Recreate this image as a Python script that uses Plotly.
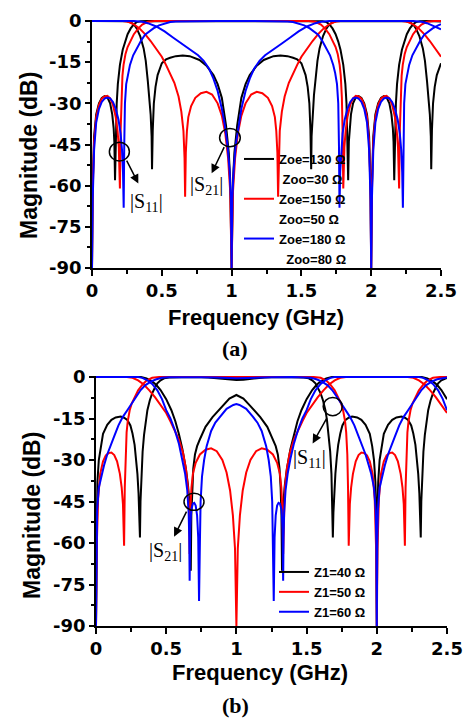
import plotly.graph_objects as go

# ---------------- data: (frequency GHz, magnitude dB) ----------------
# Panel (a): Zoe/Zoo variation
a_s11_black = [(0,-90),(0.005,-60),(0.015,-42),(0.03,-34),(0.05,-30),(0.07,-28),(0.09,-27.4),(0.11,-27.8),(0.13,-30),(0.145,-34),(0.155,-39),(0.16,-44),(0.165,-58),(0.17,-42),(0.177,-30),(0.185,-23),(0.2,-16),(0.22,-10.5),(0.236,-7.5),(0.255,-4.8),(0.277,-2.7),(0.3,-1.2),(0.32,-0.4),(0.35,-0.1),(0.4,0),(0.45,0),(0.55,-0.2),(0.65,-0.25),(0.8,-0.15),(0.95,-0.02),(1.0,0),(1.05,-0.02),(1.2,-0.15),(1.35,-0.25),(1.45,-0.2),(1.55,0),(1.6,-0.02),(1.65,-0.1),(1.68,-0.4),(1.7,-1.2),(1.723,-2.7),(1.745,-4.8),(1.764,-7.5),(1.78,-10.5),(1.8,-16),(1.815,-23),(1.823,-30),(1.83,-42),(1.835,-58),(1.84,-44),(1.845,-39),(1.855,-34),(1.87,-30),(1.89,-27.8),(1.91,-27.4),(1.93,-28),(1.95,-30),(1.97,-34),(1.985,-42),(1.995,-60),(2.0,-90),(2.005,-60),(2.015,-42),(2.03,-34),(2.05,-30),(2.07,-28),(2.09,-27.4),(2.11,-27.8),(2.13,-30),(2.145,-34),(2.155,-39),(2.16,-44),(2.165,-58),(2.17,-42),(2.177,-30),(2.185,-23),(2.2,-16),(2.22,-10.5),(2.236,-7.5),(2.255,-4.8),(2.277,-2.7),(2.3,-1.2),(2.32,-0.4),(2.35,-0.1),(2.4,0),(2.45,-0.05),(2.5,-0.15)]
a_s21_black = [(0,0),(0.2,0),(0.25,-0.1),(0.28,-0.6),(0.3,-1.2),(0.32,-2.7),(0.345,-5.5),(0.37,-10),(0.385,-14.5),(0.4,-22),(0.41,-27),(0.42,-34),(0.427,-42),(0.43,-54),(0.435,-40),(0.443,-30),(0.455,-24),(0.47,-19.7),(0.5,-15.4),(0.53,-14),(0.56,-13.4),(0.6,-12.8),(0.65,-12.6),(0.7,-12.8),(0.77,-14.2),(0.82,-16.3),(0.87,-19.7),(0.9,-23),(0.93,-28),(0.96,-38),(0.98,-48),(0.99,-58),(1.0,-90),(1.01,-58),(1.02,-48),(1.04,-38),(1.07,-28),(1.1,-23),(1.13,-19.7),(1.18,-16.3),(1.23,-14.2),(1.3,-12.8),(1.35,-12.6),(1.4,-12.8),(1.44,-13.4),(1.47,-14),(1.5,-15.4),(1.53,-19.7),(1.545,-24),(1.557,-30),(1.565,-40),(1.57,-54),(1.573,-42),(1.58,-34),(1.59,-27),(1.6,-22),(1.615,-14.5),(1.63,-10),(1.655,-5.5),(1.68,-2.7),(1.7,-1.2),(1.72,-0.6),(1.75,-0.1),(1.8,0),(2.2,0),(2.25,-0.1),(2.28,-0.6),(2.3,-1.2),(2.32,-2.7),(2.345,-5.5),(2.37,-10),(2.385,-14.5),(2.4,-22),(2.41,-27),(2.42,-34),(2.427,-42),(2.43,-54),(2.435,-40),(2.443,-30),(2.455,-24),(2.47,-19.7),(2.5,-15.4)]
a_s11_red = [(0,-90),(0.005,-62),(0.015,-44),(0.03,-35),(0.05,-30.5),(0.07,-28.3),(0.09,-27.5),(0.11,-27.3),(0.13,-28.2),(0.15,-30.5),(0.17,-35),(0.183,-40),(0.192,-46),(0.2,-61),(0.205,-40),(0.21,-28),(0.218,-20),(0.226,-16),(0.24,-12),(0.255,-9.5),(0.272,-7.5),(0.3,-4.8),(0.332,-2.7),(0.36,-1.3),(0.4,-0.3),(0.45,0),(1.55,0),(1.6,-0.3),(1.64,-1.3),(1.668,-2.7),(1.7,-4.8),(1.728,-7.5),(1.745,-9.5),(1.76,-12),(1.774,-16),(1.782,-20),(1.79,-28),(1.795,-40),(1.8,-61),(1.808,-46),(1.817,-40),(1.83,-35),(1.85,-30.5),(1.87,-28.2),(1.89,-27.3),(1.91,-27.5),(1.93,-28.3),(1.95,-30.5),(1.97,-35),(1.985,-44),(1.995,-62),(2.0,-90),(2.005,-62),(2.015,-44),(2.03,-35),(2.05,-30.5),(2.07,-28.3),(2.09,-27.5),(2.11,-27.3),(2.13,-28.2),(2.15,-30.5),(2.17,-35),(2.183,-40),(2.192,-46),(2.2,-61),(2.205,-40),(2.21,-28),(2.218,-20),(2.226,-16),(2.24,-12),(2.255,-9.5),(2.272,-7.5),(2.3,-4.8),(2.332,-2.7),(2.36,-1.3),(2.4,-0.3),(2.45,0),(2.5,0)]
a_s21_red = [(0,0),(0.22,0),(0.26,-0.3),(0.3,-1.2),(0.34,-2.7),(0.38,-4.8),(0.42,-7.3),(0.46,-10),(0.5,-13),(0.53,-16),(0.56,-19),(0.59,-22.5),(0.62,-27.5),(0.64,-33),(0.655,-40),(0.663,-50),(0.667,-64),(0.672,-48),(0.68,-40),(0.69,-35),(0.71,-31),(0.74,-28),(0.78,-26.3),(0.82,-25.8),(0.86,-26.8),(0.9,-30),(0.93,-34.5),(0.955,-41),(0.975,-50),(0.99,-62),(1.0,-90),(1.01,-62),(1.025,-50),(1.045,-41),(1.07,-34.5),(1.1,-30),(1.14,-26.8),(1.18,-25.8),(1.22,-26.3),(1.26,-28),(1.29,-31),(1.31,-35),(1.32,-40),(1.328,-48),(1.333,-64),(1.337,-50),(1.345,-40),(1.36,-33),(1.38,-27.5),(1.41,-22.5),(1.44,-19),(1.47,-16),(1.5,-13),(1.54,-10),(1.58,-7.3),(1.62,-4.8),(1.66,-2.7),(1.7,-1.2),(1.74,-0.3),(1.78,0),(2.22,0),(2.26,-0.3),(2.3,-1.2),(2.34,-2.7),(2.38,-4.8),(2.42,-7.3),(2.46,-10),(2.5,-13)]
a_s11_blue = [(0,-90),(0.005,-65),(0.015,-47),(0.03,-37),(0.05,-32),(0.07,-29.5),(0.09,-28.3),(0.11,-27.9),(0.13,-28.2),(0.15,-29.5),(0.17,-32),(0.19,-36),(0.205,-41),(0.215,-47),(0.222,-55),(0.227,-68),(0.231,-45),(0.236,-30),(0.245,-23),(0.258,-19),(0.272,-16),(0.295,-12.5),(0.32,-10),(0.35,-7.3),(0.38,-5),(0.41,-3.7),(0.44,-2.7),(0.48,-1.6),(0.52,-0.9),(0.56,-0.4),(0.6,-0.15),(0.7,-0.05),(0.9,0),(1.1,0),(1.3,-0.05),(1.4,-0.15),(1.44,-0.4),(1.48,-0.9),(1.52,-1.6),(1.56,-2.7),(1.59,-3.7),(1.62,-5),(1.65,-7.3),(1.68,-10),(1.705,-12.5),(1.728,-16),(1.742,-19),(1.755,-23),(1.764,-30),(1.769,-45),(1.773,-68),(1.778,-55),(1.785,-47),(1.795,-41),(1.81,-36),(1.83,-32),(1.85,-29.5),(1.87,-28.2),(1.89,-27.9),(1.91,-28.3),(1.93,-29.5),(1.95,-32),(1.97,-37),(1.985,-47),(1.995,-65),(2.0,-90),(2.005,-65),(2.015,-47),(2.03,-37),(2.05,-32),(2.07,-29.5),(2.09,-28.3),(2.11,-27.9),(2.13,-28.2),(2.15,-29.5),(2.17,-32),(2.19,-36),(2.205,-41),(2.215,-47),(2.222,-55),(2.227,-68),(2.231,-45),(2.236,-30),(2.245,-23),(2.258,-19),(2.272,-16),(2.295,-12.5),(2.32,-10),(2.35,-7.3),(2.38,-5),(2.41,-3.7),(2.44,-2.7),(2.48,-1.6),(2.5,-1.2)]
a_s21_blue = [(0,0),(0.3,0),(0.36,-0.3),(0.4,-0.8),(0.46,-2),(0.52,-3.8),(0.58,-6),(0.64,-8.2),(0.7,-10.2),(0.76,-12.5),(0.8,-14.5),(0.84,-17.5),(0.87,-21),(0.9,-25.5),(0.93,-32),(0.95,-37.5),(0.97,-45),(0.985,-54),(0.995,-65),(1.0,-90),(1.005,-65),(1.015,-54),(1.03,-45),(1.05,-37.5),(1.07,-32),(1.1,-25.5),(1.13,-21),(1.16,-17.5),(1.2,-14.5),(1.24,-12.5),(1.3,-10.2),(1.36,-8.2),(1.42,-6),(1.48,-3.8),(1.54,-2),(1.6,-0.8),(1.64,-0.3),(1.7,0),(2.3,0),(2.36,-0.3),(2.4,-0.8),(2.46,-2),(2.5,-3)]

# Panel (b): Z1 variation (Z1=50 case shares the red curves of panel (a))
b_s11_black = [(0,-90),(0.004,-50),(0.01,-38),(0.02,-30),(0.033,-25),(0.05,-20.5),(0.08,-17.3),(0.11,-15.5),(0.14,-14.6),(0.176,-14.3),(0.2,-14.7),(0.223,-15.5),(0.245,-17.5),(0.26,-20.4),(0.275,-24.5),(0.285,-29),(0.295,-35),(0.303,-42),(0.309,-49),(0.313,-58),(0.317,-45),(0.323,-35),(0.332,-27),(0.342,-21),(0.355,-15.5),(0.366,-12),(0.383,-8.5),(0.4,-5.9),(0.42,-3.8),(0.437,-2.3),(0.46,-1.2),(0.485,-0.5),(0.52,-0.15),(0.6,-0.05),(0.7,0),(0.8,-0.15),(0.9,-0.6),(0.95,-0.95),(1.0,-1.1),(1.05,-0.95),(1.1,-0.6),(1.2,-0.15),(1.3,0),(1.4,-0.05),(1.48,-0.15),(1.515,-0.5),(1.54,-1.2),(1.563,-2.3),(1.58,-3.8),(1.6,-5.9),(1.617,-8.5),(1.634,-12),(1.645,-15.5),(1.658,-21),(1.668,-27),(1.677,-35),(1.683,-45),(1.687,-58),(1.691,-49),(1.697,-42),(1.705,-35),(1.715,-29),(1.725,-24.5),(1.74,-20.4),(1.755,-17.5),(1.777,-15.5),(1.8,-14.7),(1.824,-14.3),(1.86,-14.6),(1.89,-15.5),(1.92,-17.3),(1.95,-20.5),(1.967,-25),(1.98,-30),(1.99,-38),(1.996,-50),(2.0,-90),(2.004,-50),(2.01,-38),(2.02,-30),(2.033,-25),(2.05,-20.5),(2.08,-17.3),(2.11,-15.5),(2.14,-14.6),(2.176,-14.3),(2.2,-14.7),(2.223,-15.5),(2.245,-17.5),(2.26,-20.4),(2.275,-24.5),(2.285,-29),(2.295,-35),(2.303,-42),(2.309,-49),(2.313,-58),(2.317,-45),(2.323,-35),(2.332,-27),(2.342,-21),(2.355,-15.5),(2.366,-12),(2.383,-8.5),(2.4,-5.9),(2.42,-3.8),(2.437,-2.3),(2.46,-1.2),(2.485,-0.5),(2.5,-0.3)]
b_s21_black = [(0,0),(0.32,0),(0.36,-0.5),(0.4,-1.6),(0.43,-2.9),(0.46,-4.7),(0.5,-8),(0.537,-12),(0.565,-16),(0.59,-20.5),(0.615,-26),(0.64,-33),(0.655,-39),(0.665,-45),(0.671,-52),(0.675,-70),(0.679,-50),(0.685,-40),(0.693,-33),(0.705,-28),(0.72,-25),(0.74,-22.5),(0.78,-18),(0.83,-14.5),(0.9,-10.5),(0.95,-7.8),(1.0,-6.5),(1.05,-7.8),(1.1,-10.5),(1.17,-14.5),(1.22,-18),(1.26,-22.5),(1.28,-25),(1.295,-28),(1.307,-33),(1.315,-40),(1.321,-50),(1.325,-70),(1.329,-52),(1.335,-45),(1.345,-39),(1.36,-33),(1.385,-26),(1.41,-20.5),(1.435,-16),(1.463,-12),(1.5,-8),(1.54,-4.7),(1.57,-2.9),(1.6,-1.6),(1.64,-0.5),(1.68,0),(2.32,0),(2.36,-0.5),(2.4,-1.6),(2.43,-2.9),(2.46,-4.7),(2.5,-8)]
b_s11_blue = [(0,-90),(0.003,-60),(0.008,-48),(0.02,-40),(0.04,-35),(0.057,-32),(0.08,-28),(0.1,-25),(0.128,-21.6),(0.16,-17.5),(0.19,-14.5),(0.223,-12),(0.25,-9.8),(0.28,-7.5),(0.318,-4.7),(0.35,-3),(0.39,-1.7),(0.43,-0.8),(0.47,-0.3),(0.52,-0.1),(0.6,0),(0.75,-0.05),(0.85,-0.2),(0.92,-0.35),(1.0,-0.48),(1.08,-0.35),(1.15,-0.2),(1.25,-0.05),(1.4,0),(1.48,-0.1),(1.53,-0.3),(1.57,-0.8),(1.61,-1.7),(1.65,-3),(1.682,-4.7),(1.72,-7.5),(1.75,-9.8),(1.777,-12),(1.81,-14.5),(1.84,-17.5),(1.872,-21.6),(1.9,-25),(1.92,-28),(1.943,-32),(1.96,-35),(1.98,-40),(1.992,-48),(1.997,-60),(2.0,-90),(2.003,-60),(2.008,-48),(2.02,-40),(2.04,-35),(2.057,-32),(2.08,-28),(2.1,-25),(2.128,-21.6),(2.16,-17.5),(2.19,-14.5),(2.223,-12),(2.25,-9.8),(2.28,-7.5),(2.318,-4.7),(2.35,-3),(2.39,-1.7),(2.43,-0.8),(2.47,-0.3),(2.5,-0.15)]
b_s21_blue = [(0,0),(0.3,0),(0.33,-0.3),(0.37,-1.3),(0.4,-2.5),(0.437,-4.8),(0.47,-8),(0.5,-12),(0.53,-15),(0.56,-19),(0.59,-24),(0.615,-29.5),(0.635,-35),(0.65,-41),(0.66,-49),(0.664,-58),(0.667,-73.6),(0.671,-55),(0.678,-48),(0.69,-45.8),(0.7,-45.5),(0.71,-46.5),(0.72,-50),(0.728,-58),(0.734,-81),(0.74,-60),(0.745,-45),(0.755,-36),(0.77,-30),(0.788,-25),(0.82,-19.5),(0.85,-16.5),(0.883,-14.3),(0.93,-11.5),(0.978,-10.1),(1.0,-9.8),(1.022,-10.1),(1.07,-11.5),(1.117,-14.3),(1.15,-16.5),(1.18,-19.5),(1.212,-25),(1.23,-30),(1.245,-36),(1.255,-45),(1.26,-60),(1.266,-81),(1.272,-58),(1.28,-50),(1.29,-46.5),(1.3,-45.5),(1.31,-45.8),(1.322,-48),(1.329,-55),(1.333,-73.6),(1.336,-58),(1.34,-49),(1.35,-41),(1.365,-35),(1.385,-29.5),(1.41,-24),(1.44,-19),(1.47,-15),(1.5,-12),(1.53,-8),(1.563,-4.8),(1.6,-2.5),(1.63,-1.3),(1.67,-0.3),(1.7,0),(2.3,0),(2.33,-0.3),(2.37,-1.3),(2.4,-2.5),(2.437,-4.8),(2.47,-8),(2.5,-12)]
b_s11_red = a_s11_red
b_s21_red = a_s21_red

legend_a_names = ["Zoe=130 Ω", "\u00a0Zoo=30 Ω", "Zoe=150 Ω", "Zoo=50 Ω", "Zoe=180 Ω", "\u00a0\u00a0Zoo=80 Ω"]
legend_b_names = ["Z1=40 Ω", "Z1=50 Ω", "Z1=60 Ω"]

x_tickvals = [0, 0.5, 1, 1.5, 2, 2.5]
x_ticktext = ["0", "0.5", "1", "1.5", "2", "2.5"]
x_minorvals = [0.25, 0.75, 1.25, 1.75, 2.25]
y_tickvals = [0, -15, -30, -45, -60, -75, -90]
y_ticktext = ["0", "-15", "-30", "-45", "-60", "-75", "-90"]
y_minorvals = [-7.5, -22.5, -37.5, -52.5, -67.5, -82.5]

BLACK, RED, BLUE = "#000000", "#ff0000", "#0000ff"
W, H = 465, 718

fig = go.Figure()

def add_curve(curve, color, xa, ya):
    f = [p[0] for p in curve]
    d = [p[1] for p in curve]
    fig.add_trace(go.Scatter(x=f, y=d, mode="lines", line=dict(color=color, width=2),
                             xaxis=xa, yaxis=ya, showlegend=False, hoverinfo="skip"))

for c, col in [(a_s11_black, BLACK), (a_s21_black, BLACK), (a_s11_red, RED), (a_s21_red, RED),
               (a_s11_blue, BLUE), (a_s21_blue, BLUE)]:
    add_curve(c, col, "x", "y")
for c, col in [(b_s11_black, BLACK), (b_s21_black, BLACK), (b_s11_red, RED), (b_s21_red, RED),
               (b_s11_blue, BLUE), (b_s21_blue, BLUE)]:
    add_curve(c, col, "x2", "y2")

# legend entries
leg_a_cols = [BLACK, "rgba(0,0,0,0)", RED, "rgba(0,0,0,0)", BLUE, "rgba(0,0,0,0)"]
for name, col in zip(legend_a_names, leg_a_cols):
    fig.add_trace(go.Scatter(x=[None], y=[None], mode="lines", name=name,
                             line=dict(color=col, width=2), xaxis="x", yaxis="y", legend="legend"))
for name, col in zip(legend_b_names, [BLACK, RED, BLUE]):
    fig.add_trace(go.Scatter(x=[None], y=[None], mode="lines", name=name,
                             line=dict(color=col, width=2), xaxis="x2", yaxis="y2", legend="legend2"))

tickfont = dict(family="DejaVu Sans", size=18, color="black", weight="bold")

def xaxis(domain, anchor):
    return dict(domain=domain, anchor=anchor, range=[0, 2.5], showline=True, linecolor="black",
                linewidth=1.5, ticks="outside", ticklen=6, tickwidth=1.5, tickcolor="black",
                tickmode="array", tickvals=x_tickvals, ticktext=x_ticktext, tickfont=tickfont,
                minor=dict(ticks="outside", ticklen=4, tickwidth=1.5, tickcolor="black", tickvals=x_minorvals),
                showgrid=False, zeroline=False, automargin=False)

def yaxis(domain, anchor):
    return dict(domain=domain, anchor=anchor, range=[-90, 0.4], showline=True, linecolor="black",
                linewidth=1.5, ticks="outside", ticklen=5, tickwidth=1.5, tickcolor="black",
                tickmode="array", tickvals=y_tickvals, ticktext=y_ticktext, tickfont=tickfont,
                minor=dict(ticks="outside", ticklen=3, tickwidth=1.5, tickcolor="black", tickvals=y_minorvals),
                showgrid=False, zeroline=False, automargin=False)

def px(x):
    return x / W

def py(y):
    return 1 - y / H

title_font = dict(family="Liberation Sans", size=22, color="black", weight="bold")
serif = dict(family="Liberation Serif", size=20, color="black")
legfont = dict(family="Liberation Sans", size=13, color="black", weight="bold")
mag_font = dict(family="Liberation Sans", size=23, color="black", weight="bold")
panel_font = dict(family="Liberation Serif", size=22, color="black", weight="bold")

def paper_text(text, x, y, font, angle=0):
    return dict(text=text, x=px(x), y=py(y), xref="paper", yref="paper", showarrow=False,
                xanchor="center", yanchor="middle", textangle=angle, font=font)

def data_text(text, x, y, xr, yr):
    return dict(text=text, x=x, y=y, xref=xr, yref=yr, showarrow=False,
                xanchor="center", yanchor="middle", font=serif)

annotations = [
    paper_text("Frequency (GHz)", 256, 317, title_font),
    paper_text("Frequency (GHz)", 260, 672, title_font),
    paper_text("Magnitude (dB)", 29, 156, mag_font, -90),
    paper_text("Magnitude (dB)", 32, 516, mag_font, -90),
    paper_text("(a)", 235, 348, panel_font),
    paper_text("(b)", 235, 705, panel_font),
    data_text("|S<sub>11</sub>|", 0.387, -66, "x", "y"),
    data_text("|S<sub>21</sub>|", 0.822, -59.8, "x", "y"),
    data_text("|S<sub>21</sub>|", 0.496, -63.1, "x2", "y2"),
    data_text("|S<sub>11</sub>|", 1.519, -29.4, "x2", "y2"),
]
arrows = [
    ("x", "y", 0.243, -50.3, 0.332, -59.2),
    ("x", "y", 0.952, -45.4, 0.857, -55.5),
    ("x2", "y2", 0.65, -48.1, 0.556, -57.7),
    ("x2", "y2", 1.65, -14.3, 1.543, -24.0),
]
for xr, yr, x0, y0, x1, y1 in arrows:
    annotations.append(dict(text="", x=x1, y=y1, ax=x0, ay=y0, xref=xr, yref=yr, axref=xr, ayref=yr,
                            showarrow=True, arrowhead=2, arrowsize=1.2, arrowwidth=1.5, arrowcolor="black",
                            standoff=0, startstandoff=0))

circles = [
    ("x", "y", 0.196, -47.6, 0.0716, 3.4),
    ("x", "y", 0.988, -42.5, 0.074, 3.3),
    ("x2", "y2", 0.698, -45.1, 0.0712, 3.1),
    ("x2", "y2", 1.686, -10.7, 0.068, 3.3),
]
shapes = [dict(type="circle", xref=xr, yref=yr, x0=cx - rx, x1=cx + rx, y0=cy - ry, y1=cy + ry,
               line=dict(color="black", width=1.5)) for xr, yr, cx, cy, rx, ry in circles]

fig.update_layout(
    width=W, height=H, autosize=False,
    margin=dict(l=0, r=0, t=0, b=0, pad=0, autoexpand=False),
    paper_bgcolor="white", plot_bgcolor="white",
    xaxis=xaxis([92 / W, 441 / W], "y"),
    yaxis=yaxis([1 - 268 / H, 1 - 19.9 / H], "x"),
    xaxis2=xaxis([96 / W, 447 / W], "y2"),
    yaxis2=yaxis([1 - 626 / H, 1 - 375.9 / H], "x2"),
    legend=dict(x=px(239), y=py(144), xanchor="left", yanchor="top", font=legfont,
                bgcolor="rgba(0,0,0,0)", itemwidth=30, tracegroupgap=0),
    legend2=dict(x=px(274), y=py(557), xanchor="left", yanchor="top", font=legfont,
                 bgcolor="rgba(0,0,0,0)", itemwidth=30, tracegroupgap=0),
    annotations=annotations,
    shapes=shapes,
    hovermode=False,
)

fig.write_html("out.html", config={"displayModeBar": False, "responsive": False},
               post_script="document.body.style.margin='0';")
